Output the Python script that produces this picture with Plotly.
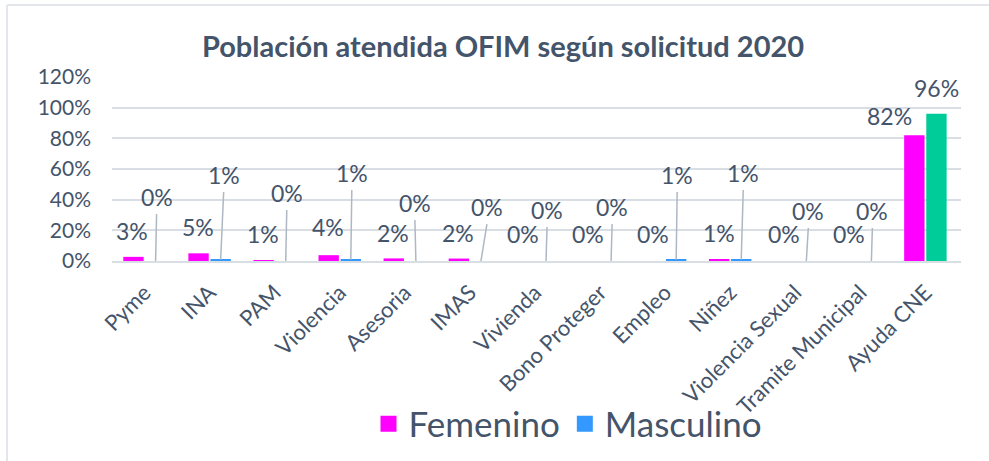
import plotly.graph_objects as go

categories = ["Pyme", "INA", "PAM", "Violencia", "Asesoria", "IMAS", "Vivienda",
              "Bono Proteger", "Empleo", "Niñez", "Violencia Sexual",
              "Tramite Municipal", "Ayuda CNE"]
femenino = [0.027, 0.05, 0.006, 0.038, 0.017, 0.016, 0.0, 0.0, 0.0, 0.007, 0.0, 0.0, 0.82]
masculino = [0.0, 0.009, 0.0, 0.009, 0.0, 0.0, 0.0, 0.0, 0.009, 0.009, 0.0, 0.0, 0.96]
y_ticks = [0, 0.2, 0.4, 0.6, 0.8, 1.0, 1.2]
y_tick_labels = ["0%", "20%", "40%", "60%", "80%", "100%", "120%"]

# data-label placement (Excel style with leader lines)
fem_label_y = [0.196, 0.222, 0.176, 0.222, 0.183, 0.183, 0.176, 0.176, 0.176, 0.183, 0.176, 0.176, 0.946]
masc_label_y = [0.417, 0.561, 0.444, 0.574, 0.378, 0.352, 0.333, 0.352, 0.561, 0.574, 0.326, 0.326, 1.129]
fem_label_dx = [-1, -1, -1, -1, -1, -1, -1, -1, -1, 0, 0, 0, -25]
masc_label_dx = [1, 3, 1, 1, -1, 6, 1, 1, 1, 2, 2, 1, 0]

W, H = 989, 461
L, R, T, B = 112, 28, 77, 200
PW, PH = W - L - R, H - T - B
FONT = "Lato, 'Open Sans', sans-serif"
TXT = "#44546A"
FEM_C = "#FF00FF"
MASC_C = "#3399FF"
CNE_C = "#00CC99"

masc_colors = [MASC_C] * (len(categories) - 1) + [CNE_C]

fig = go.Figure()
fig.add_trace(go.Bar(x=categories, y=femenino, name="Femenino",
                     marker=dict(color=FEM_C, line=dict(width=0)), showlegend=False))
fig.add_trace(go.Bar(x=categories, y=masculino, name="Masculino",
                     marker=dict(color=masc_colors, line=dict(width=0)), showlegend=False))
# legend entries
fig.add_trace(go.Scatter(x=[None], y=[None], mode="markers", name="Femenino",
                         marker=dict(symbol="square", size=20, color=FEM_C)))
fig.add_trace(go.Scatter(x=[None], y=[None], mode="markers", name="Masculino",
                         marker=dict(symbol="square", size=20, color=MASC_C)))

bargap = 0.32
slot = (1 - bargap) / 2
cat_px = PW / len(categories)

def lab(v):
    return f"{round(v * 100)}%"

annotations = []
shapes = []
for i, c in enumerate(categories):
    annotations.append(dict(x=c, y=fem_label_y[i], xref="x", yref="y", text=lab(femenino[i]),
                            showarrow=False, xshift=-slot / 2 * cat_px + fem_label_dx[i],
                            yanchor="middle", font=dict(size=23, color=TXT, family=FONT)))
    annotations.append(dict(x=c, y=masc_label_y[i], xref="x", yref="y", text=lab(masculino[i]),
                            showarrow=False, xshift=slot / 2 * cat_px + masc_label_dx[i],
                            yanchor="middle", font=dict(size=23, color=TXT, family=FONT)))
    if i < len(categories) - 1:
        shapes.append(dict(type="line", xref="x", yref="y",
                           x0=i + slot / 2, y0=masculino[i],
                           x1=i + slot / 2 + masc_label_dx[i] / cat_px, y1=masc_label_y[i] - 0.111,
                           line=dict(color="#AEB8C4", width=1.5), layer="above"))

# chart-area border (left and top)
def px_x(p):
    return (p - L) / PW

def px_y(p):
    return (H - B - p) / PH

shapes.append(dict(type="line", xref="paper", yref="paper", x0=px_x(7), x1=px_x(7),
                   y0=px_y(5), y1=px_y(H + 5), line=dict(color="#E3E6EA", width=2)))
shapes.append(dict(type="line", xref="paper", yref="paper", x0=px_x(7), x1=px_x(W + 5),
                   y0=px_y(5), y1=px_y(5), line=dict(color="#E3E6EA", width=2)))

fig.update_layout(
    width=W, height=H,
    margin=dict(l=L, r=R, t=T, b=B, autoexpand=False),
    paper_bgcolor="white", plot_bgcolor="white",
    barmode="group", bargap=bargap, bargroupgap=0.08,
    title=dict(text="<b>Población atendida OFIM según solicitud 2020</b>",
               x=503 / W, xanchor="center",
               y=1 - 47 / H, yanchor="middle", yref="container",
               font=dict(size=29, color=TXT, family=FONT)),
    font=dict(family=FONT, color=TXT),
    xaxis=dict(tickangle=-45, tickfont=dict(size=22, color=TXT, family=FONT),
               showgrid=False, showline=True, linecolor="#D9DEE5", linewidth=2,
               ticks="", ticklabelstandoff=8, fixedrange=True),
    yaxis=dict(range=[0, 1.2], tickvals=y_ticks, ticktext=y_tick_labels,
               tickfont=dict(size=21, color=TXT, family=FONT),
               showgrid=True, gridcolor="#D9DEE5", gridwidth=2,
               zeroline=False, showline=False, ticks="", ticklabelstandoff=20),
    legend=dict(orientation="h", x=px_x(568), xanchor="center", y=px_y(424), yanchor="middle",
                font=dict(size=35, color=TXT, family=FONT), itemsizing="trace",
                bgcolor="rgba(0,0,0,0)"),
    annotations=annotations,
    shapes=shapes,
)

fig.write_html("out.html",
               config={"displayModeBar": False},
               post_script="document.body.style.margin='0px';"
                           "document.documentElement.style.overflow='hidden';")
